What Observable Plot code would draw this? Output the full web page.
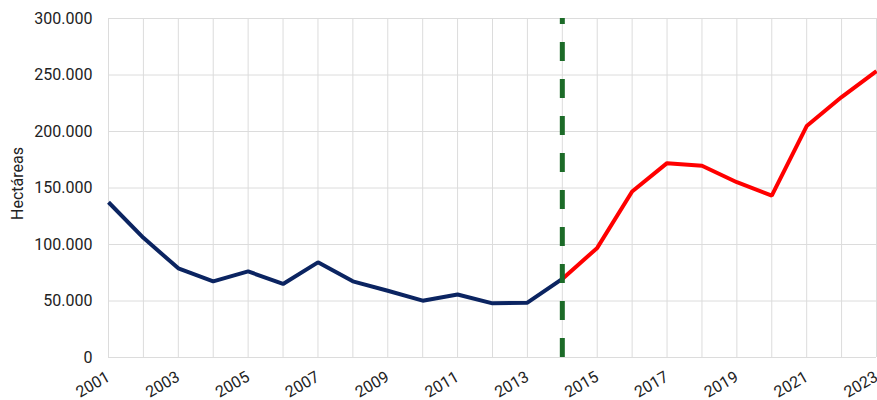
<!DOCTYPE html>
<html>
<head>
<meta charset="utf-8">
<script src="https://cdn.jsdelivr.net/npm/d3@7"></script>
<script src="https://cdn.jsdelivr.net/npm/@observablehq/plot@0.6"></script>
<style>
  html, body { margin: 0; padding: 0; background: #fff; }
  #chart { width: 877px; height: 400px; }
</style>
</head>
<body>
<div id="chart"></div>
<script>
// Historical series (blue) 2001–2014
const yearsHist = [2001, 2002, 2003, 2004, 2005, 2006, 2007, 2008, 2009, 2010, 2011, 2012, 2013, 2014];
const valuesHist = [137400, 105900, 78900, 67400, 76200, 65100, 84200, 67400, 59100, 50300, 55800, 47900, 48500, 69500];
// Recent series (red) 2014–2023
const yearsRecent = [2014, 2015, 2016, 2017, 2018, 2019, 2020, 2021, 2022, 2023];
const valuesRecent = [69500, 97000, 146900, 172000, 169700, 155100, 143300, 204800, 230500, 253500];
// Break marker year
const breakYear = [2014];
// Axis ticks
const yTicks = [0, 50000, 100000, 150000, 200000, 250000, 300000];
const xGridYears = d3.range(2001, 2024);
const xLabelYears = [2001, 2003, 2005, 2007, 2009, 2011, 2013, 2015, 2017, 2019, 2021, 2023];
const yLabel = "Hectáreas";

const hist = yearsHist.map((y, i) => ({year: y, value: valuesHist[i]}));
const recent = yearsRecent.map((y, i) => ({year: y, value: valuesRecent[i]}));

const loc = d3.formatLocale({decimal: ",", thousands: ".", grouping: [3], currency: ["", ""]});
const fmt = loc.format(",");

const chart = Plot.plot({
  width: 877,
  height: 400,
  marginLeft: 108,
  marginRight: 1,
  marginTop: 18,
  marginBottom: 43,
  style: {fontFamily: "Roboto, sans-serif", fontSize: "16px", color: "#222", background: "#fff"},
  x: {domain: [2001, 2023]},
  y: {domain: [0, 300000]},
  marks: [
    Plot.gridX(xGridYears, {stroke: "#dcdcdc", strokeOpacity: 1, strokeWidth: 1}),
    Plot.gridY(yTicks, {stroke: "#dcdcdc", strokeOpacity: 1, strokeWidth: 1}),
    Plot.axisY(yTicks, {tickSize: 0, tickPadding: 16, tickFormat: fmt, label: null, fontSize: 16}),
    Plot.axisX(xLabelYears, {tickSize: 0, tickPadding: 18, tickRotate: -30, tickFormat: d => String(d), label: null, fontSize: 16}),
    Plot.text([yLabel], {frameAnchor: "left", rotate: -90, dx: -91, dy: 32, fontSize: 16, fill: "#222"}),
    Plot.line(hist, {x: "year", y: "value", stroke: "#0b2461", strokeWidth: 4, strokeLinejoin: "miter", strokeLinecap: "butt"}),
    Plot.line(recent, {x: "year", y: "value", stroke: "#ff0000", strokeWidth: 4, strokeLinejoin: "miter", strokeLinecap: "butt"}),
    Plot.ruleX(breakYear, {y1: 0, y2: 300000, stroke: "#1c6b28", strokeWidth: 5, strokeDasharray: "19,18"})
  ]
});
document.getElementById("chart").appendChild(chart);
</script>
</body>
</html>
